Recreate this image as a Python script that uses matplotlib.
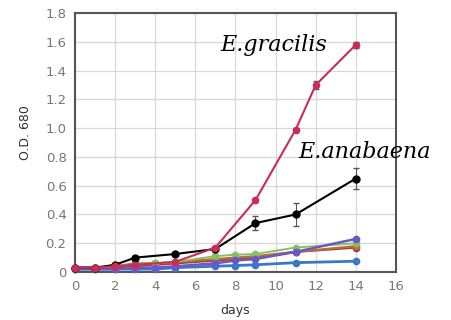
import numpy as np
import matplotlib.pyplot as plt

# datos
dias_largo = [0, 1, 2, 3, 5, 7, 9, 11, 12, 14]
gracilis = [0.03, 0.03, 0.04, 0.05, 0.07, 0.17, 0.50, 0.99, 1.30, 1.58]
gracilis_err = [0, 0, 0, 0, 0, 0.01, 0.01, 0.01, 0.03, 0.02]

dias_anab = [0, 1, 2, 3, 5, 7, 9, 11, 14]
anabaena = [0.03, 0.03, 0.05, 0.10, 0.125, 0.16, 0.34, 0.40, 0.65]
anabaena_err = [0, 0, 0, 0.01, 0.01, 0.01, 0.05, 0.08, 0.07]

dias = [0, 1, 2, 3, 4, 5, 7, 8, 9, 11, 14]
verde = [0.02, 0.03, 0.04, 0.05, 0.06, 0.07, 0.11, 0.12, 0.125, 0.17, 0.20]
morado = [0.02, 0.02, 0.02, 0.03, 0.03, 0.04, 0.06, 0.08, 0.09, 0.14, 0.23]
naranja = [0.03, 0.03, 0.04, 0.06, 0.06, 0.07, 0.09, 0.10, 0.11, 0.14, 0.18]
granate = [0.03, 0.03, 0.03, 0.04, 0.05, 0.06, 0.08, 0.09, 0.10, 0.14, 0.17]
azul = [0.02, 0.02, 0.02, 0.02, 0.02, 0.03, 0.04, 0.045, 0.05, 0.065, 0.075]

xticks = np.arange(0, 17, 2)
yticks = np.arange(0, 1.81, 0.2)
ylabels = ["0"] + ["%.1f" % v for v in yticks[1:]]

fig = plt.figure(figsize=(4.51, 3.2), dpi=100)
ax = fig.add_axes([0.166, 0.15, 0.712, 0.809])

ax.plot(dias, azul, "-o", color="#3b78c2", lw=2, ms=4.5, clip_on=False, zorder=3)
ax.plot(dias, granate, "-o", color="#a23a4a", lw=1.6, ms=4.5, clip_on=False, zorder=3)
ax.plot(dias, naranja, "-o", color="#b5742e", lw=1.6, ms=4.5, clip_on=False, zorder=3)
ax.plot(dias, verde, "-o", color="#86c062", lw=1.4, ms=4.5, clip_on=False, zorder=3)
ax.plot(dias, morado, "-o", color="#6b57c8", lw=1.8, ms=4.5, clip_on=False, zorder=4)
ax.errorbar(dias_anab, anabaena, yerr=anabaena_err, fmt="-o", color="black", lw=1.5,
            ms=5, ecolor="#555555", elinewidth=0.8, capsize=2.5, clip_on=False, zorder=5)
ax.errorbar(dias_largo, gracilis, yerr=gracilis_err, fmt="-o", color="#c92d55", lw=1.5,
            ms=4.5, ecolor="#555555", elinewidth=0.8, capsize=2.5, clip_on=False, zorder=6)

ax.text(7.25, 1.54, "E.gracilis", fontsize=16, style="italic", family="DejaVu Serif")
ax.text(11.15, 0.79, "E.anabaena", fontsize=16, style="italic", family="DejaVu Serif",
        clip_on=False)

ax.set_xlim(0, 16)
ax.set_ylim(0, 1.8)
ax.set_xticks(xticks)
ax.set_yticks(yticks)
ax.set_yticklabels(ylabels)
ax.tick_params(length=0, labelsize=9.5, labelcolor="#777777", pad=6)
ax.grid(color="#d8d8d8", lw=0.9)
ax.set_axisbelow(True)
for s in ax.spines.values():
    s.set_color("#555555")
    s.set_linewidth(1.5)

ax.set_xlabel("days", fontsize=9, color="#333333", labelpad=8)
ax.set_ylabel("O.D. 680", fontsize=9, color="#333333", labelpad=6)
ax.yaxis.set_label_coords(-0.135, 0.54)

plt.savefig("out.png", dpi=100)
